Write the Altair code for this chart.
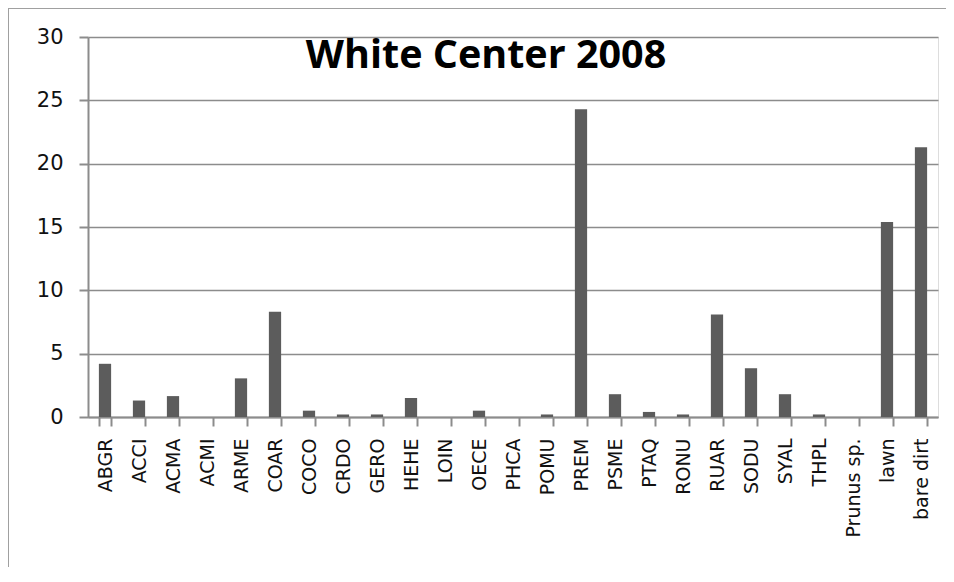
import altair as alt
import pandas as pd

categories = ["ABGR", "ACCI", "ACMA", "ACMI", "ARME", "COAR", "COCO", "CRDO", "GERO",
              "HEHE", "LOIN", "OECE", "PHCA", "POMU", "PREM", "PSME", "PTAQ", "RONU",
              "RUAR", "SODU", "SYAL", "THPL", "Prunus sp.", "lawn", "bare dirt"]
values = [4.2, 1.3, 1.65, 0.0, 3.05, 8.3, 0.5, 0.2, 0.2,
          1.5, 0.0, 0.5, 0.0, 0.2, 24.3, 1.8, 0.4, 0.2,
          8.1, 3.85, 1.8, 0.2, 0.0, 15.4, 21.3]
title_text = ["White Center 2008"]
y_ticks = [0, 5, 10, 15, 20, 25, 30]

df = pd.DataFrame({"species": categories, "value": values})
tdf = pd.DataFrame({"t": title_text})

GRAY = "#8c8c8c"

bars = alt.Chart(df).mark_bar(color="#5c5c5c").encode(
    x=alt.X("species:N", sort=categories,
            scale=alt.Scale(paddingInner=0.64, paddingOuter=0.32),
            axis=alt.Axis(title=None, labelAngle=270, labelFont="DejaVu Sans",
                          labelFontSize=19, labelColor="#111111", labelPadding=12,
                          tickBand="extent", tickSize=9, tickColor=GRAY, tickWidth=2,
                          domainColor=GRAY, domainWidth=2, grid=False)),
    y=alt.Y("value:Q", scale=alt.Scale(domain=[0, 30], nice=False),
            axis=alt.Axis(title=None, values=y_ticks, labelFont="DejaVu Sans",
                          labelFontSize=21, labelColor="#111111", labelPadding=16,
                          tickSize=9, tickColor=GRAY, tickWidth=2,
                          domainColor=GRAY, domainWidth=2,
                          grid=True, gridColor=GRAY, gridWidth=1.6)),
)

title = alt.Chart(tdf).mark_text(font="Open Sans", fontWeight="bold", fontSize=39.5,
                                 color="#000000", align="center",
                                 baseline="alphabetic").encode(
    text="t:N", x=alt.value(398), y=alt.value(31))

border_left = alt.Chart(tdf).mark_rule(color="#a0a0a0", strokeWidth=2).encode(
    x=alt.value(-80), y=alt.value(-29), y2=alt.value(560))
border_top = alt.Chart(tdf).mark_rule(color="#a0a0a0", strokeWidth=2).encode(
    x=alt.value(-80), x2=alt.value(870), y=alt.value(-29))

chart = alt.layer(bars, title, border_left, border_top).properties(
    width=850, height=380,
    autosize=alt.AutoSizeParams(type="none"),
    padding={"left": 80, "top": 29, "right": 8, "bottom": 150},
).configure_view(stroke=None).configure(background="white")

chart.save("out.html", embed_options={"renderer": "svg", "actions": False})
